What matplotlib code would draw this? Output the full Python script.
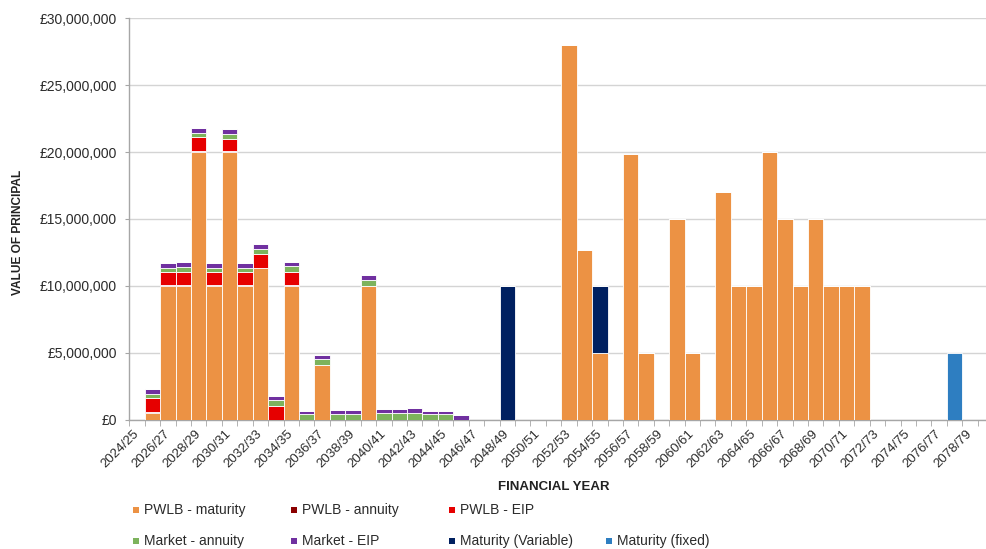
import matplotlib
matplotlib.use("Agg")
import matplotlib.pyplot as plt
import numpy as np
from matplotlib.patches import Rectangle
from matplotlib.ticker import FuncFormatter, FixedLocator

plt.rcParams['font.family'] = ['Liberation Sans', 'DejaVu Sans']

years = ["2024/25", "2025/26", "2026/27", "2027/28", "2028/29", "2029/30", "2030/31",
         "2031/32", "2032/33", "2033/34", "2034/35", "2035/36", "2036/37", "2037/38",
         "2038/39", "2039/40", "2040/41", "2041/42", "2042/43", "2043/44", "2044/45",
         "2045/46", "2046/47", "2047/48", "2048/49", "2049/50", "2050/51", "2051/52",
         "2052/53", "2053/54", "2054/55", "2055/56", "2056/57", "2057/58", "2058/59",
         "2059/60", "2060/61", "2061/62", "2062/63", "2063/64", "2064/65", "2065/66",
         "2066/67", "2067/68", "2068/69", "2069/70", "2070/71", "2071/72", "2072/73",
         "2073/74", "2074/75", "2075/76", "2076/77", "2077/78", "2078/79"]

# values in £ millions
pwlb_maturity = [0, 0.5, 10, 10, 20, 10, 20, 10, 11.3, 0, 10, 0, 4.1, 0, 0, 10,
                 0, 0, 0, 0, 0, 0, 0, 0, 0, 0, 0, 0,
                 28, 12.7, 5, 0, 19.85, 5, 0, 15, 5, 0, 17, 10, 10, 20, 15, 10, 15,
                 10, 10, 10, 0, 0, 0, 0, 0, 0, 0]
pwlb_annuity = [0, 0.05, 0.05, 0.05, 0.05, 0.05, 0.05, 0.05, 0.05, 0, 0.05] + [0] * 44
pwlb_eip = [0, 1.05, 1.0, 1.0, 1.05, 0.95, 0.95, 1.0, 1.0, 1.0, 1.0] + [0] * 44
market_annuity = [0, 0.3, 0.3, 0.35, 0.35, 0.35, 0.35, 0.3, 0.4, 0.45, 0.4,
                  0.4, 0.4, 0.4, 0.4, 0.45, 0.45, 0.45, 0.45, 0.4, 0.4, 0] + [0] * 33
market_eip = [0, 0.35, 0.35, 0.35, 0.35, 0.35, 0.4, 0.35, 0.35, 0.3, 0.35,
              0.27, 0.35, 0.3, 0.3, 0.35, 0.35, 0.35, 0.4, 0.27, 0.27, 0.3] + [0] * 33
maturity_variable = [0] * 24 + [10, 0, 0, 0, 0, 0, 5] + [0] * 24
maturity_fixed = [0] * 53 + [5, 0]

series = [
    ("PWLB - maturity", pwlb_maturity, "#EC9244"),
    ("PWLB - annuity", pwlb_annuity, "#8B0000"),
    ("PWLB - EIP", pwlb_eip, "#E60000"),
    ("Market - annuity", market_annuity, "#7DB35C"),
    ("Market - EIP", market_eip, "#7030A0"),
    ("Maturity (Variable)", maturity_variable, "#002060"),
    ("Maturity (fixed)", maturity_fixed, "#2E7EC1"),
]

W, H = 987, 549
fig = plt.figure(figsize=(W / 100, H / 100), dpi=100)
ax = fig.add_axes([129.3 / W, (H - 419.5) / H, (987 - 129.3) / W, (419.5 - 18.3) / H])

x = np.arange(len(years))
bottom = np.zeros(len(years))
for name, vals, col in series:
    v = np.array(vals, dtype=float) * 1e6
    ax.bar(x, v, width=1.0, bottom=bottom, color=col, edgecolor="white",
           linewidth=0.6, zorder=3)
    bottom += v

ax.set_ylim(0, 30e6)
ax.set_xlim(-0.5, 55.1)
ax.set_yticks(np.arange(0, 30e6 + 1, 5e6))
ax.yaxis.set_major_formatter(FuncFormatter(lambda v, p: f"£{int(v):,}"))
ax.grid(axis="y", color="#d4d4d4", linewidth=1.0, zorder=0)
ax.set_axisbelow(True)

for s in ["top", "right"]:
    ax.spines[s].set_visible(False)
for s in ["left", "bottom"]:
    ax.spines[s].set_color("#a6a6a6")
    ax.spines[s].set_linewidth(1.0)

ax.set_xticks(x[::2])
ax.set_xticklabels(years[::2], rotation=45, ha="right", va="center",
                   rotation_mode="anchor", fontsize=9.5, color="#2b2b2b")
ax.xaxis.set_minor_locator(FixedLocator(np.arange(-0.5, 55, 1.0)))
ax.tick_params(axis="x", which="major", length=0, pad=9)
ax.tick_params(axis="x", which="minor", length=4, color="#a6a6a6", direction="out")
ax.tick_params(axis="y", length=3, color="#a6a6a6", labelsize=10, pad=6,
               labelcolor="#2b2b2b")

fig.text(18 / W, 1 - 232 / H, "VALUE OF PRINCIPAL", rotation=90, ha="center",
         va="center", fontsize=8.6, fontweight="bold", color="#222222")
fig.text(554 / W, 1 - 487 / H, "FINANCIAL YEAR", ha="center", va="center",
         fontsize=9.5, fontweight="bold", color="#222222")

# legend (manual layout in two rows)
leg_pos = [(136, 510), (294, 510), (452, 510), (136, 541), (294, 541), (452, 541), (609, 541)]
for (name, vals, col), (px, py) in zip(series, leg_pos):
    fig.add_artist(Rectangle(((px - 3) / W, 1 - (py + 3) / H), 6 / W, 6 / H,
                             facecolor=col, edgecolor="none", transform=fig.transFigure))
    fig.text((px + 8) / W, 1 - py / H, name, ha="left", va="center",
             fontsize=10, color="#2b2b2b")

fig.savefig("out.png", dpi=100)
